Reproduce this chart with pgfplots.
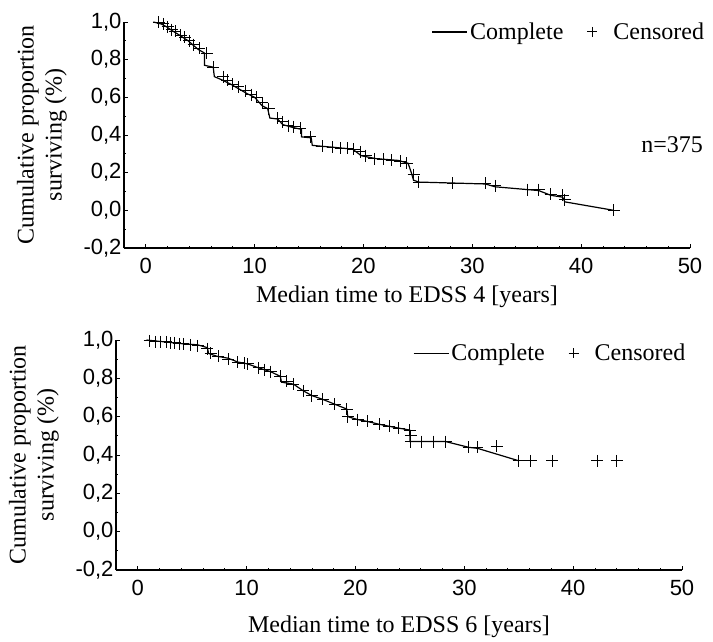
\documentclass[border=0pt]{standalone}
\usepackage{fontspec}
\setmainfont{Liberation Serif}
\newfontfamily\arialfont{Liberation Sans}
\usepackage{pgfplots}
\pgfplotsset{compat=1.18}

\pgfplotsset{
  kmaxis/.style={
    scale only axis, width=566pt, clip=false,
    xmin=-2, xmax=50, ymin=-0.2, ymax=1.0,
    axis lines*=left,
    axis line style={line width=1.2pt, black},
    xtick={0,10,20,30,40,50},
    ytick={-0.2,0,0.2,0.4,0.6,0.8,1.0},
    minor x tick num=4, minor y tick num=1,
    tick align=inside, major tick length=4pt, minor tick length=2.5pt,
    tick style={line width=0.8pt, black},
    tick label style={font=\arialfont\fontsize{22}{26}\selectfont},
    xticklabel style={yshift=-7pt},
    /pgf/number format/assume math mode=true,
    /pgf/number format/use comma,
    yticklabel style={/pgf/number format/fixed, /pgf/number format/fixed zerofill, /pgf/number format/precision=1, xshift=1pt},
    ylabel={Cumulative proportion\\surviving (\%)},
    ylabel style={align=center, font=\fontsize{24}{28}\selectfont, at={(axis description cs:-0.145,0.5)}, anchor=center},
    xlabel style={font=\fontsize{24}{28}\selectfont, anchor=center},
    legend style={draw=none, fill=none, anchor=east,
      nodes={inner sep=2pt, font=\fontsize{24}{28}\selectfont},
      /tikz/column 2/.style={column sep=22pt},
      /tikz/column 3/.style={column sep=14pt}},
    legend columns=2,
  },
  kmline/.style={black, line width=1.2pt,
    legend image code/.code={\draw[##1] (0pt,0pt) -- (35pt,0pt);}},
  kmcens/.style={black, only marks, mark=+, mark size=6pt, line width=1pt,
    legend image code/.code={\draw[##1, mark size=5pt] plot coordinates {(0pt,0pt)};}},
}

\begin{document}
\begin{tikzpicture}
% EDSS 4
\begin{axis}[kmaxis, name=top, height=226pt,
  xlabel={Median time to EDSS 4 [years]},
  xlabel style={at={(axis description cs:0.5,-0.217)}},
  legend style={at={(axis description cs:1.034,0.956)}},
  ]
\addplot[kmline] coordinates {
(0.7,1.0) (1.4,0.99) (1.9,0.975) (2.4,0.955) (3.1,0.93) (3.9,0.9) (4.3,0.88)
(4.8,0.855) (5.4,0.835) (5.4,0.77) (6.2,0.76) (6.3,0.71) (7.1,0.69) (7.8,0.67)
(8.4,0.65) (9.3,0.62) (10.0,0.6) (10.7,0.555) (11.2,0.54) (11.4,0.49) (12.1,0.485)
(12.6,0.455) (13.5,0.44) (14.3,0.43) (14.3,0.39) (15.2,0.385) (15.3,0.345)
(16.2,0.34) (17.2,0.335) (18.1,0.33) (19.0,0.325) (19.8,0.29) (21.1,0.275)
(22.1,0.27) (23.2,0.265) (24.1,0.25) (24.4,0.2) (24.6,0.16) (25.1,0.15)
(28.2,0.145) (31.2,0.14) (32.1,0.125) (35.1,0.11) (36.1,0.105) (37.2,0.08)
(38.3,0.07) (38.5,0.045) (43.0,0.0)
};
\addlegendentry{Complete}
\addplot[kmcens] coordinates {
(1.2,1.0) (1.6,0.99) (2.0,0.975) (2.4,0.96) (2.7,0.95) (3.2,0.93) (3.6,0.92)
(4.0,0.9) (4.4,0.88) (4.9,0.86) (5.6,0.835) (6.2,0.76) (7.1,0.71) (7.5,0.69)
(8.0,0.67) (8.5,0.655) (9.2,0.635) (9.7,0.615) (10.2,0.6) (10.7,0.57) (11.3,0.54)
(12.1,0.49) (12.6,0.47) (13.1,0.45) (13.6,0.445) (14.2,0.435) (15.1,0.39)
(16.2,0.34) (17.2,0.335) (17.9,0.33) (18.5,0.33) (19.1,0.325) (19.7,0.31)
(20.2,0.29) (21.0,0.275) (21.8,0.27) (22.6,0.265) (23.4,0.26) (24.0,0.25)
(24.6,0.19) (25.1,0.15) (28.2,0.145) (31.2,0.145) (32.1,0.13) (35.1,0.11)
(36.1,0.11) (37.2,0.085) (38.3,0.08) (38.5,0.055) (43.0,0.0)
};
\addlegendentry{Censored}
\node[anchor=east, font=\fontsize{24}{28}\selectfont, inner sep=0pt] at (rel axis cs:1.023,0.456) {n=375};
\end{axis}

% EDSS 6
\begin{axis}[kmaxis, at={(top.south west)}, anchor=south west, xshift=-8pt, yshift=-322pt,
  height=230pt,
  xlabel={Median time to EDSS 6 [years]},
  xlabel style={at={(axis description cs:0.5,-0.245)}},
  legend style={at={(axis description cs:1.015,0.943)}},
  ]
\addplot[kmline] coordinates {
(0.8,1.0) (2.5,0.99) (4.2,0.98) (5.5,0.975) (6.4,0.96) (6.5,0.93) (7.3,0.915)
(8.3,0.905) (9.2,0.885) (10.1,0.875) (11.1,0.855) (12.2,0.835) (13.1,0.81)
(13.2,0.78) (14.3,0.77) (15.2,0.735) (16.0,0.71) (17.0,0.69) (18.1,0.665)
(19.2,0.64) (19.3,0.6) (20.2,0.585) (21.1,0.575) (22.2,0.56) (23.1,0.55)
(24.0,0.54) (25.0,0.53) (25.0,0.47) (26.1,0.47) (28.3,0.47) (30.4,0.44)
(31.2,0.435) (35.0,0.37)
};
\addlegendentry{Complete}
\addplot[kmcens] coordinates {
(1.1,0.995) (1.6,0.99) (2.1,0.99) (2.6,0.99) (3.0,0.985) (3.4,0.985) (3.8,0.98)
(4.2,0.98) (4.8,0.975) (5.5,0.97) (6.4,0.955) (6.7,0.93) (7.4,0.915) (8.3,0.9)
(9.2,0.885) (9.8,0.88) (10.1,0.875) (11.1,0.855) (11.6,0.845) (12.2,0.835)
(13.1,0.81) (13.7,0.785) (14.3,0.77) (15.2,0.735) (16.0,0.71) (17.0,0.69)
(18.1,0.665) (19.2,0.64) (19.3,0.6) (20.2,0.585) (21.1,0.575) (22.2,0.56)
(23.1,0.55) (24.0,0.54) (25.0,0.53) (25.1,0.5) (25.1,0.47) (26.1,0.47)
(27.2,0.47) (28.3,0.47) (30.4,0.44) (31.2,0.44) (33.0,0.445) (35.0,0.37)
(36.1,0.37) (38.1,0.37) (42.2,0.37) (44.0,0.37)
};
\addlegendentry{Censored}
\end{axis}

\pgfresetboundingbox
\path (top.south west) ++(-124pt,248pt) rectangle ++(713pt,-641pt);
\end{tikzpicture}
\end{document}
